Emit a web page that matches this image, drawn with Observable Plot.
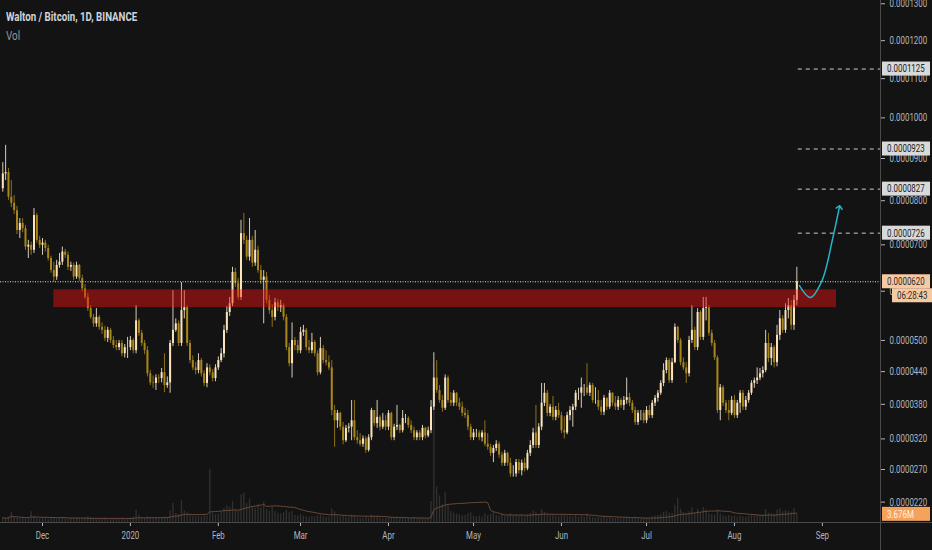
<!DOCTYPE html>
<html>
<head>
<meta charset="utf-8">
<script src="https://cdn.jsdelivr.net/npm/d3@7"></script>
<script src="https://cdn.jsdelivr.net/npm/@observablehq/plot@0.6"></script>
<style>
  body { margin: 0; background: #131313; }
  #chart { position: relative; width: 932px; height: 550px; overflow: hidden; background: #131313;
    font-family: Roboto, sans-serif; }
  #chart svg { position: absolute; left: 0; top: 0; }
  .title, .vol { position: absolute; left: 6px; white-space: nowrap; transform-origin: 0 0; }
  .title { top: 10px; color: #d1d4dc; font-size: 12px; font-weight: bold; }
  .vol { top: 29px; color: #9598a1; font-size: 12px; }
</style>
</head>
<body>
<div id="chart">
  <div class="title" id="title">Walton / Bitcoin, 1D, BINANCE</div>
  <div class="vol" id="vol">Vol</div>
</div>
<script>
// prices in units of 0.0000001 BTC, one daily candle from 2019-11-17 to 2020-08-23
const firstDay = "2019-11-17";
const firstOpen = 828;
const closes = [
  863, 866, 808, 794, 777, 732, 748, 736, 695, 699,
  688, 766, 710, 699, 704, 692, 670, 644, 630, 655,
  662, 684, 677, 651, 655, 630, 655, 627, 605, 587,
  564, 546, 533, 546, 526, 520, 504, 520, 500, 490,
  486, 494, 474, 486, 486, 500, 480, 539, 514, 494,
  480, 436, 419, 418, 428, 427, 438, 414, 419, 494,
  520, 533, 494, 560, 566, 494, 461, 447, 442, 461,
  436, 418, 447, 438, 427, 447, 461, 474, 520, 556,
  574, 640, 616, 587, 725, 710, 673, 710, 660, 688,
  644, 623, 630, 581, 560, 546, 576, 566, 570, 546,
  486, 455, 500, 490, 480, 516, 520, 486, 480, 496,
  474, 438, 484, 461, 457, 447, 369, 351, 364, 340,
  317, 338, 340, 351, 322, 317, 311, 320, 301, 322,
  369, 346, 357, 340, 351, 340, 364, 322, 340, 343,
  334, 355, 355, 343, 334, 322, 330, 322, 338, 325,
  334, 375, 428, 405, 387, 373, 428, 387, 382, 400,
  382, 375, 364, 360, 340, 322, 330, 330, 322, 330,
  311, 306, 296, 304, 311, 293, 280, 296, 280, 263,
  263, 281, 268, 280, 271, 296, 309, 330, 309, 340,
  382, 400, 364, 375, 357, 369, 360, 334, 330, 360,
  369, 375, 400, 400, 410, 410, 400, 414, 387, 387,
  375, 366, 391, 375, 400, 382, 375, 387, 378, 387,
  392, 382, 369, 348, 364, 364, 351, 369, 360, 382,
  391, 400, 418, 442, 461, 423, 457, 526, 500, 457,
  447, 436, 500, 520, 486, 556, 506, 564, 566, 514,
  494, 466, 369, 410, 382, 369, 364, 387, 360, 382,
  400, 375, 387, 400, 418, 423, 428, 436, 442, 494,
  465, 486, 457, 510, 543, 520, 560, 570, 530, 581,
  620
];
const highs = [
  890, 932, 876, 847, 812, 787, 759, 759, 743, 710,
  706, 782, 771, 719, 714, 710, 699, 675, 662, 666,
  681, 695, 690, 684, 662, 660, 662, 657, 634, 614,
  595, 570, 552, 564, 550, 535, 528, 526, 524, 508,
  500, 500, 500, 492, 506, 508, 504, 570, 543, 520,
  500, 488, 442, 432, 434, 434, 446, 474, 430, 500,
  601, 543, 539, 618, 601, 570, 500, 470, 457, 474,
  465, 442, 455, 453, 444, 453, 468, 484, 530, 568,
  587, 651, 649, 627, 755, 771, 719, 759, 719, 732,
  697, 655, 644, 640, 591, 572, 585, 583, 581, 574,
  552, 494, 535, 506, 500, 526, 530, 524, 500, 514,
  500, 480, 506, 490, 480, 470, 461, 378, 369, 366,
  348, 343, 346, 387, 387, 334, 329, 325, 324, 327,
  373, 369, 387, 360, 364, 360, 369, 366, 345, 378,
  345, 369, 362, 358, 351, 340, 334, 334, 343, 340,
  340, 387, 476, 461, 414, 396, 434, 432, 401, 405,
  401, 391, 384, 373, 369, 345, 336, 336, 334, 334,
  351, 329, 311, 309, 317, 315, 298, 301, 298, 288,
  276, 286, 286, 285, 288, 301, 317, 338, 378, 346,
  418, 418, 405, 380, 394, 376, 382, 366, 358, 366,
  376, 380, 405, 409, 428, 416, 455, 419, 418, 410,
  405, 387, 396, 391, 405, 401, 394, 394, 391, 394,
  428, 400, 387, 375, 369, 369, 369, 376, 378, 387,
  396, 405, 423, 455, 466, 465, 465, 533, 528, 504,
  466, 457, 508, 570, 526, 564, 560, 587, 587, 570,
  520, 500, 470, 416, 414, 387, 387, 394, 396, 387,
  405, 405, 394, 405, 423, 428, 447, 446, 449, 520,
  514, 494, 490, 530, 560, 550, 574, 585, 581, 591,
  651
];
const lows = [
  820, 847, 801, 784, 768, 723, 714, 727, 688, 670,
  677, 681, 704, 692, 677, 684, 664, 638, 619, 623,
  649, 655, 670, 644, 642, 623, 625, 621, 599, 583,
  558, 542, 526, 526, 520, 512, 498, 496, 494, 484,
  480, 480, 468, 466, 465, 480, 474, 474, 508, 488,
  472, 430, 414, 409, 405, 418, 419, 401, 409, 400,
  488, 516, 488, 488, 543, 488, 455, 442, 434, 436,
  430, 412, 410, 432, 421, 421, 442, 457, 466, 514,
  548, 568, 608, 581, 581, 701, 666, 664, 651, 653,
  638, 614, 533, 574, 552, 526, 539, 558, 556, 539,
  480, 449, 428, 480, 474, 474, 508, 480, 474, 474,
  468, 432, 434, 455, 451, 442, 360, 306, 338, 334,
  310, 314, 330, 317, 317, 311, 307, 306, 296, 298,
  317, 341, 338, 334, 336, 334, 334, 317, 317, 334,
  329, 330, 346, 338, 329, 317, 317, 317, 317, 320,
  322, 329, 369, 400, 382, 366, 369, 382, 376, 376,
  376, 369, 358, 355, 334, 317, 317, 322, 317, 315,
  307, 301, 291, 281, 299, 288, 275, 275, 275, 258,
  258, 258, 263, 260, 266, 268, 291, 304, 304, 304,
  334, 376, 358, 358, 351, 351, 355, 329, 320, 327,
  351, 340, 369, 387, 373, 394, 396, 394, 382, 380,
  369, 360, 360, 369, 371, 376, 369, 369, 373, 369,
  380, 376, 364, 343, 343, 351, 346, 346, 355, 355,
  376, 384, 396, 412, 436, 418, 418, 455, 494, 451,
  442, 418, 430, 494, 480, 480, 500, 500, 539, 508,
  488, 461, 364, 351, 376, 364, 351, 360, 355, 355,
  364, 369, 369, 382, 396, 409, 416, 423, 428, 438,
  457, 451, 447, 449, 500, 514, 514, 543, 520, 520,
  570
];
// daily volume, millions
const volumes = [
  2.1, 1.8, 2.4, 4.6, 2.2, 1.9, 1.6, 2.0, 1.7, 2.3,
  4.8, 2.5, 1.9, 1.6, 1.8, 2.2, 1.5, 1.7, 2.0, 1.6,
  1.9, 2.3, 1.7, 1.5, 1.8, 1.6, 2.1, 1.9, 1.7, 2.0,
  2.6, 2.2, 1.8, 1.6, 1.9, 1.7, 2.0, 1.5, 1.6, 1.8,
  1.7, 1.5, 1.9, 1.6, 1.8, 2.0, 2.4, 5.5, 3.1, 2.2,
  2.0, 2.6, 2.3, 1.9, 2.1, 1.8, 2.0, 2.4, 2.2, 5.2,
  8.6, 4.1, 3.6, 9.8, 5.2, 4.4, 3.1, 2.7, 2.5, 2.9,
  2.6, 3.0, 2.8, 24.0, 4.2, 3.5, 3.8, 4.6, 6.2, 7.4,
  6.8, 9.5, 5.6, 4.9, 12.5, 13.2, 8.4, 10.6, 7.2, 6.4,
  8.1, 6.6, 9.2, 5.8, 5.1, 6.9, 4.8, 4.2, 3.9, 4.4,
  5.6, 4.5, 4.9, 3.2, 2.9, 3.6, 2.8, 2.6, 2.4, 2.7,
  2.5, 3.1, 3.4, 2.6, 2.3, 2.4, 6.1, 4.8, 3.0, 2.6,
  2.9, 2.2, 2.0, 3.4, 2.7, 2.1, 1.9, 1.8, 2.4, 1.9,
  3.3, 2.2, 2.9, 1.9, 1.7, 1.8, 2.1, 2.3, 1.8, 2.4,
  1.7, 2.0, 1.6, 1.8, 1.9, 2.2, 1.6, 1.7, 1.9, 1.6,
  1.8, 9.5, 72.0, 16.0, 12.0, 8.0, 13.5, 7.5, 5.0, 4.2,
  3.8, 3.4, 3.0, 3.3, 3.9, 4.4, 2.8, 2.6, 2.9, 2.5,
  3.9, 3.2, 3.6, 4.5, 3.3, 2.9, 3.7, 2.8, 3.1, 4.0,
  3.2, 3.5, 2.9, 3.6, 2.7, 3.4, 4.1, 5.2, 4.4, 3.6,
  5.8, 4.6, 3.9, 3.1, 3.5, 2.9, 2.8, 3.6, 3.3, 2.9,
  2.7, 2.5, 3.4, 2.3, 2.9, 2.4, 3.8, 2.6, 2.3, 2.1,
  2.2, 2.0, 2.4, 1.9, 2.3, 1.8, 1.7, 1.9, 1.6, 1.8,
  2.5, 1.7, 1.9, 2.4, 1.8, 1.7, 1.9, 2.0, 1.8, 2.6,
  2.9, 3.1, 3.7, 4.6, 4.9, 4.2, 4.0, 7.8, 10.8, 6.0,
  4.5, 3.9, 4.8, 6.5, 4.1, 5.9, 4.4, 6.8, 5.6, 3.9,
  3.5, 3.2, 5.6, 3.8, 2.9, 2.7, 3.1, 2.6, 2.8, 2.4,
  3.0, 2.6, 2.5, 2.7, 3.3, 3.0, 3.4, 3.2, 3.5, 5.9,
  4.3, 4.1, 3.8, 5.6, 6.2, 4.7, 5.4, 5.1, 4.6, 6.3,
  3.676
];

const priceTicks = [220, 270, 320, 380, 440, 500, 600, 700, 800, 900, 1000, 1100, 1200, 1300];
const targetLevels = [726, 827, 923, 1125];
const lastPrice = 620;
const countdown = "06:28:43";
const zone = {start: "2019-12-05", end: "2020-09-06", low: 566, high: 603};
const targetStart = "2020-08-23T12:00";
const arrowDates = ["2020-08-23T22:00", "2020-08-27T19:00", "2020-08-31T22:00", "2020-09-04T12:00", "2020-09-07T00:00"];
const arrowPrices = [612, 587, 623, 710, 785];
const monthTicks = ["2019-12-01", "2020-01-01", "2020-02-01", "2020-03-01", "2020-04-01",
  "2020-05-01", "2020-06-01", "2020-07-01", "2020-08-01", "2020-09-01"];
const xDomain = ["2019-11-16T04:30", "2020-09-21T12:00"];
const yDomain = [190.7, 1309];
const volumeMax = 235;

const upColor = "#fbe4bb", downColor = "#a8861a";
const upWick = "#d6cbb6", downWick = "#8c7216";
const font = "Roboto, sans-serif";
const narrowK = 0.72;
const utc = s => new Date(s + (s.length > 10 ? "Z" : "T00:00Z"));

const start = utc(firstDay);
const candles = closes.map((c, i) => ({
  date: d3.utcDay.offset(start, i),
  open: i ? closes[i - 1] : firstOpen,   // daily candles open at the previous close
  close: c,
  high: highs[i],
  low: lows[i],
  volume: volumes[i]
}));
const up = d => d.close >= d.open;
const arrow = arrowDates.map((d, i) => ({date: utc(d), price: arrowPrices[i]}));

const W = 932, H = 550, MR = 52, MB = 28;
const xScale = {type: "utc", domain: xDomain.map(utc)};

const chart = Plot.plot({
  width: W, height: H,
  marginLeft: 0, marginRight: MR, marginTop: 0, marginBottom: MB,
  style: {background: "transparent", color: "#b2b5be", fontSize: "11px", fontFamily: font},
  x: {...xScale, ticks: monthTicks.map(utc), tickSize: 4, label: null,
      tickFormat: d => d.getUTCMonth() === 0 ? String(d.getUTCFullYear()) : d3.utcFormat("%b")(d)},
  y: {type: "pow", exponent: 0.65, domain: yDomain, axis: "right", ticks: priceTicks,
      tickSize: 4, label: null, tickFormat: d => (d * 1e-7).toFixed(7)},
  marks: [
    Plot.ruleX(candles, {x: "date", y1: "low", y2: "high", strokeWidth: 1,
      stroke: d => up(d) ? upWick : downWick}),
    Plot.ruleX(candles, {x: "date", y1: "open", y2: "close", strokeWidth: 2,
      stroke: d => up(d) ? upColor : downColor}),
    Plot.rect([zone], {x1: d => utc(d.start), x2: d => utc(d.end), y1: "low", y2: "high",
      fill: "#ff1010", fillOpacity: 0.42}),
    Plot.ruleY([lastPrice], {stroke: "#e0e0e0", strokeDasharray: "1,1.5", strokeWidth: 1}),
    Plot.ruleY(targetLevels, {x1: () => utc(targetStart), x2: () => utc(xDomain[1]),
      stroke: "#cfcfcf", strokeDasharray: "4,4", strokeWidth: 1}),
    Plot.line(arrow, {x: "date", y: "price", stroke: "#27b4c6", strokeWidth: 1.5,
      curve: "catmull-rom", markerEnd: "arrow"})
  ]
});

const volChart = Plot.plot({
  width: W, height: H,
  marginLeft: 0, marginRight: MR, marginTop: 0, marginBottom: MB,
  style: {background: "transparent"},
  x: {...xScale, axis: null},
  y: {domain: [0, volumeMax], axis: null},
  marks: [
    Plot.ruleX(candles, {x: "date", y1: () => 0, y2: "volume", stroke: "#a9a9a9",
      strokeOpacity: 0.2, strokeWidth: 1.3}),
    Plot.lineY(candles, Plot.windowY({k: 20, anchor: "end", reduce: "mean"},
      {x: "date", y: "volume", stroke: "#6b4735", strokeWidth: 1}))
  ]
});

const root = document.getElementById("chart");
root.prepend(chart);
root.appendChild(volChart);

// condensed look of the original narrow font
function narrow(sel) {
  sel.each(function () {
    const L = this.getComputedTextLength();
    if (L > 0) this.setAttribute("textLength", (L * narrowK).toFixed(1)),
      this.setAttribute("lengthAdjust", "spacingAndGlyphs");
  });
}
narrow(d3.select(chart).selectAll("text"));

for (const [id, w] of [["title", 131], ["vol", 14]]) {
  const el = document.getElementById(id);
  el.style.transform = `scaleX(${w / el.offsetWidth})`;
}

// separators of the panes
const frameRight = W - MR, frameBottom = H - MB;
const s1 = d3.select(chart);
s1.append("line").attr("x1", 0).attr("x2", W).attr("y1", frameBottom + 0.5).attr("y2", frameBottom + 0.5)
  .attr("stroke", "#4a4a4a");
s1.append("line").attr("x1", frameRight + 0.5).attr("x2", frameRight + 0.5).attr("y1", 0).attr("y2", H)
  .attr("stroke", "#4a4a4a");

// highlighted price labels on the right scale
function tag(svg, y, text, bg, fg, x0, w) {
  const g = svg.append("g");
  g.append("rect").attr("x", x0).attr("y", y - 7).attr("width", w).attr("height", 14).attr("fill", bg);
  const t = g.append("text").attr("x", x0 + 5).attr("y", y).attr("dy", "0.35em")
    .attr("text-anchor", "start").attr("fill", fg).attr("font-size", 11)
    .attr("font-family", font).text(text);
  narrow(t);
}
const yS = chart.scale("y");
const s2 = d3.select(volChart);
targetLevels.forEach(v => tag(s2, yS.apply(v), (v * 1e-7).toFixed(7), "#d9d9d9", "#222", frameRight + 2, 48));
const yl = yS.apply(lastPrice);
tag(s2, yl, (lastPrice * 1e-7).toFixed(7), "#f7c9a3", "#2a2a2a", frameRight + 2, 48);
tag(s2, yl + 14, countdown, "#f7c9a3", "#2a2a2a", frameRight + 12, 40);
const vS = volChart.scale("y");
const lastVol = volumes[volumes.length - 1];
tag(s2, vS.apply(lastVol), lastVol.toFixed(3) + "M", "#f5a25d", "#fff1e3", frameRight + 2, 48);
</script>
</body>
</html>
